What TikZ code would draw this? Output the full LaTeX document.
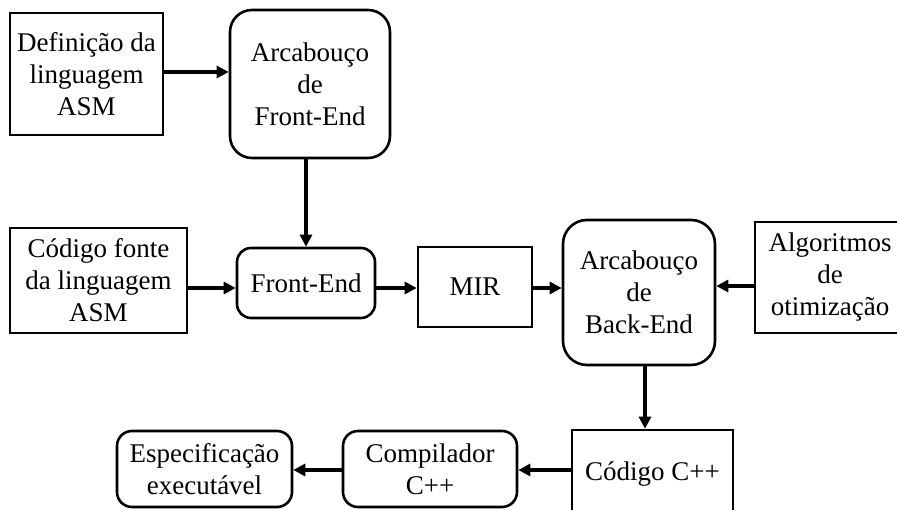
\documentclass[tikz,border=0pt]{standalone}
\usepackage{fontspec}
\setmainfont{Liberation Serif}
\usetikzlibrary{arrows.meta}
\begin{document}
\begin{tikzpicture}[x=1pt,y=1pt,
  every node/.style={font=\fontsize{27}{32}\selectfont, align=center, inner sep=0pt},
  sqbox/.style={draw, line width=2.6pt, minimum width=#1},
  rbox/.style={draw, line width=2.6pt, rounded corners=#1},
  flow/.style={line width=3.6pt, -{Triangle[length=12pt,width=12pt]}}
]
\clip (0,0) rectangle (897,510);

% first row: definition of the language and front-end framework
\node[sqbox=153pt, minimum height=122pt] (def) at (86.5,436) {Definição da\\linguagem\\ASM};
\node[rbox=22pt, minimum width=160pt, minimum height=148pt] (fea) at (310,426) {Arcabouço\\de\\Front-End};

% middle row
\node[sqbox=177pt, minimum height=105pt] (src) at (98.5,229.5) {Código fonte\\da linguagem\\ASM};
\node[rbox=14pt, minimum width=138pt, minimum height=70pt] (fe) at (306,227) {Front-End};
\node[sqbox=114pt, minimum height=80pt] (mir) at (475,223) {MIR};
\node[rbox=24pt, minimum width=152pt, minimum height=145pt] (bea) at (639,217.5) {Arcabouço\\de\\Back-End};
\node[sqbox=150pt, minimum height=111pt] (alg) at (830,232.5) {Algoritmos\\de\\otimização};

% bottom row
\node[sqbox=161pt, minimum height=89pt] (cpp) at (652.5,35.5) {Código C++};
\node[rbox=15pt, minimum width=174pt, minimum height=76pt] (comp) at (430,41) {Compilador\\C++};
\node[rbox=15pt, minimum width=175pt, minimum height=76pt] (esp) at (204.5,41) {Especificação\\executável};

% helper coordinates for the arrow lines
\coordinate (midrow) at (0,222);
\coordinate (defrow) at (0,438);
\coordinate (botrow) at (0,40);
\coordinate (down) at (645,0);

% connectors
\draw[flow] (def.east |- defrow) -- (fea.west |- defrow);
\draw[flow] (fe.north |- fea.south) -- (fe.north);
\draw[flow] (src.east |- midrow) -- (fe.west |- midrow);
\draw[flow] (fe.east |- midrow) -- (mir.west |- midrow);
\draw[flow] (mir.east |- midrow) -- (bea.west |- midrow);
\draw[flow] (alg.west |- 0,224) -- (bea.east |- 0,224);
\draw[flow] (down |- bea.south) -- (down |- cpp.north);
\draw[flow] (cpp.west |- botrow) -- (comp.east |- botrow);
\draw[flow] (comp.west |- botrow) -- (esp.east |- botrow);
\end{tikzpicture}
\end{document}
